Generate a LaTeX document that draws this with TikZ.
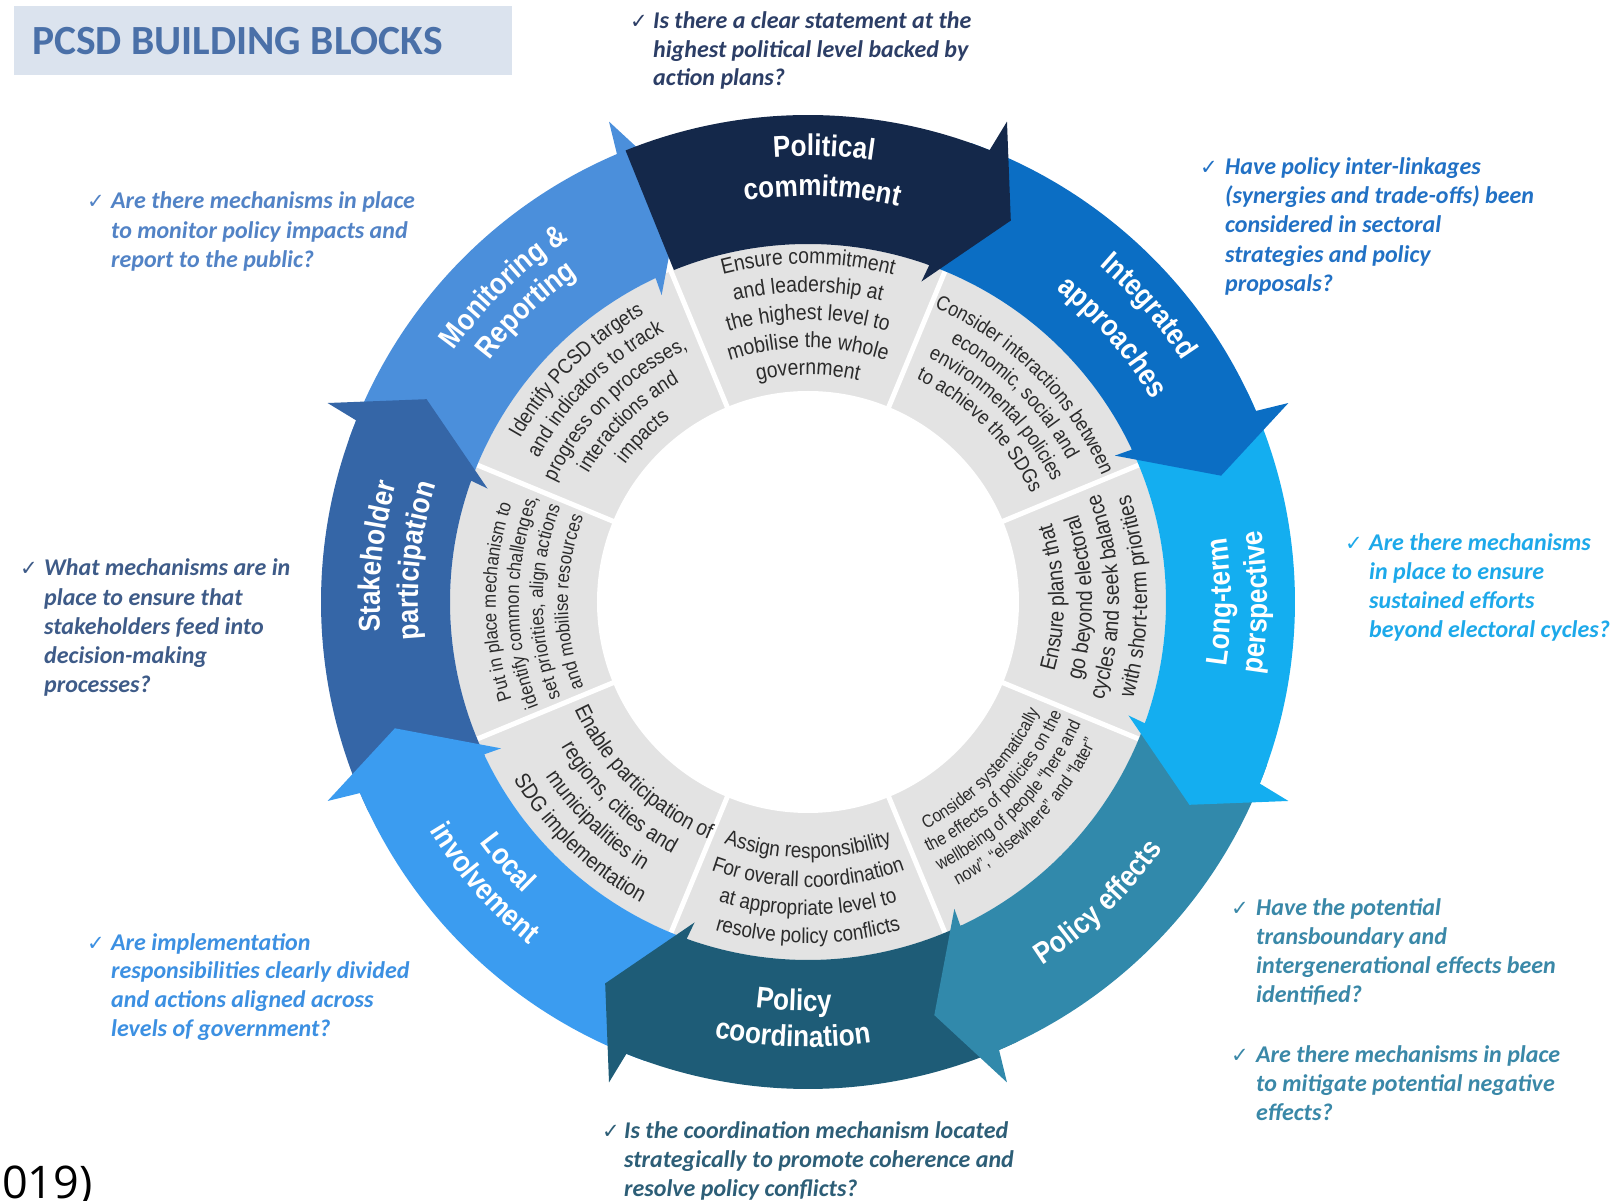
\documentclass[tikz,border=0pt]{standalone}
\usepackage{fontspec}
\usetikzlibrary{decorations.text}
\newfontfamily\grayf[FakeStretch=0.88]{Liberation Sans}
\newfontfamily\labf[FakeStretch=0.87]{Liberation Sans}
\newfontfamily\qf{Carlito}
\newfontfamily\symf{DejaVu Sans}
\newfontfamily\numf{Open Sans}

\definecolor{cPol}{HTML}{14284A}
\definecolor{cInt}{HTML}{0B6EC4}
\definecolor{cLong}{HTML}{14AEF0}
\definecolor{cEff}{HTML}{3189AB}
\definecolor{cCoord}{HTML}{1E5C77}
\definecolor{cLocal}{HTML}{3B9CF0}
\definecolor{cStake}{HTML}{3566A7}
\definecolor{cMon}{HTML}{4B8FDB}
\definecolor{cGray}{HTML}{E3E3E3}
\definecolor{cGrayText}{HTML}{2B2B2B}
\definecolor{qPol}{HTML}{2C3E66}
\definecolor{qMon}{HTML}{5283C6}
\definecolor{qInt}{HTML}{2171C5}
\definecolor{qLong}{HTML}{1DA9EA}
\definecolor{qStake}{HTML}{3E5B88}
\definecolor{qLocal}{HTML}{3C90E2}
\definecolor{qEff}{HTML}{3A88A8}
\definecolor{qCoord}{HTML}{2D5E77}
\definecolor{cTitle}{HTML}{4A70A8}
\definecolor{cTitleBg}{HTML}{DBE3EE}

\newcommand\gf[1]{\color{cGrayText}\grayf\fontsize{#1}{#1}\selectfont}
\newcommand\lf{\color{white}\labf\bfseries\fontsize{30}{30}\selectfont}
% clockwise arc text (tops outward)
\newcommand\cwtext[4]{\path[decorate,decoration={text along path,text align=center,text={|#3|#4}}] ({#1+70}:#2) arc[start angle={#1+70},end angle={#1-70},radius=#2];}
% counter-clockwise arc text (tops inward)
\newcommand\ccwtext[4]{\path[decorate,decoration={text along path,text align=center,text={|#3|#4}}] ({#1-70}:#2) arc[start angle={#1-70},end angle={#1+70},radius=#2];}
% arrow: head angle, tail angle, colour
\newcommand\ringarrow[3]{\fill[#3] (#2:487) arc[start angle=#2,end angle={#1+0.6},radius=487] -- ({#1}:520) -- ({#1-5.5}:432) -- ({#1+3}:340) -- ({#1+2.7}:358) arc[start angle={#1+2.7},end angle=#2,radius=358] -- cycle;}

\tikzset{
  qstyle/.style={anchor=base west,inner sep=0pt,font=\qf\bfseries\itshape\fontsize{24}{29}\selectfont},
  checkstyle/.style={anchor=base west,inner sep=0pt,font=\symf\fontsize{21}{24}\selectfont}
}

\begin{document}
\begin{tikzpicture}[x=1pt,y=1pt]
\useasboundingbox (-808,-599) rectangle (809,602);
\fill[white] (-808,-599) rectangle (809,602);

% title
\fill[cTitleBg] (-794,527) rectangle (-296,596);
\node[anchor=base west,inner sep=0pt,text=cTitle,font=\qf\bfseries\fontsize{41.5}{41.5}\selectfont] (title) at (-776,547) {PCSD BUILDING BLOCKS};

% gray ring
\fill[cGray] (0,0) circle (358);
\fill[white] (0,0) circle (211);
\foreach \a in {22.5,67.5,...,337.5} \draw[white,line width=5] (\a:205) -- (\a:362);

% gray texts
\cwtext{90}{338}{\gf{22}}{Ensure commitment}
\cwtext{90}{310}{\gf{22}}{and leadership at}
\cwtext{90}{282}{\gf{22}}{the highest level to}
\cwtext{90}{254}{\gf{22}}{mobilise the whole}
\cwtext{90}{227}{\gf{22}}{government}

\cwtext{45}{320}{\gf{20.5}}{Consider interactions between}
\cwtext{45}{296}{\gf{20.5}}{economic, social and}
\cwtext{45}{272}{\gf{20.5}}{environmental policies}
\cwtext{45}{248}{\gf{20.5}}{to achieve the SDGs}

\ccwtext{1}{256}{\gf{22}}{Ensure plans that}
\ccwtext{1}{284}{\gf{22}}{go beyond electoral}
\ccwtext{1}{311}{\gf{22}}{cycles and seek balance}
\ccwtext{1}{339}{\gf{22}}{with short-term priorities}

\ccwtext{-44}{256}{\gf{18}}{Consider systematically}
\ccwtext{-44}{277.5}{\gf{18}}{the effects of policies on the}
\ccwtext{-44}{299}{\gf{18}}{wellbeing of people “here and}
\ccwtext{-44}{320.5}{\gf{18}}{now”, “elsewhere” and “later”}

\ccwtext{-90}{256}{\gf{21.5}}{Assign responsibility}
\ccwtext{-90}{285}{\gf{21.5}}{For overall coordination}
\ccwtext{-90}{313}{\gf{21.5}}{at appropriate level to}
\ccwtext{-90}{341}{\gf{21.5}}{resolve policy conflicts}

\ccwtext{226}{257}{\gf{22}}{Enable participation of}
\ccwtext{226}{286}{\gf{22}}{regions, cities and}
\ccwtext{226}{315}{\gf{22}}{municipalities in}
\ccwtext{226}{344}{\gf{22}}{SDG implementation}

\cwtext{180}{312}{\gf{19.2}}{Put in place mechanism to}
\cwtext{180}{289}{\gf{19.2}}{identify common challenges,}
\cwtext{180}{265}{\gf{19.2}}{set priorities, align actions}
\cwtext{180}{240}{\gf{19.2}}{and mobilise resources}

\cwtext{135}{331}{\gf{21}}{Identify PCSD targets}
\cwtext{135}{305.5}{\gf{21}}{and indicators to track}
\cwtext{135}{280}{\gf{21}}{progress on processes,}
\cwtext{135}{254.5}{\gf{21}}{interactions and}
\cwtext{135}{229}{\gf{21}}{impacts}

% arrows (drawn so that each head lies over the next tail)
\ringarrow{112.5}{160.5}{cMon}
\ringarrow{157.5}{205.5}{cStake}
\ringarrow{202.5}{250.5}{cLocal}
\ringarrow{247.5}{295.5}{cCoord}
\ringarrow{292.5}{340.5}{cEff}
\ringarrow{337.5}{385.5}{cLong}
\ringarrow{22.5}{70.5}{cInt}
\ringarrow{67.5}{112}{cPol}

% arrow labels
\cwtext{88}{446}{\lf}{Political}
\cwtext{88}{406}{\lf}{commitment}
\cwtext{41}{445}{\lf}{Integrated}
\cwtext{41}{399}{\lf}{approaches}
\ccwtext{0}{423}{\lf}{Long-term}
\ccwtext{0}{459}{\lf}{perspective}
\ccwtext{-46}{432}{\lf}{Policy effects}
\ccwtext{-92}{409}{\lf}{Policy}
\ccwtext{-92}{445}{\lf}{coordination}
\ccwtext{221}{407}{\lf}{Local}
\ccwtext{221}{442}{\lf}{involvement}
\cwtext{174}{428}{\lf}{Stakeholder}
\cwtext{174}{390}{\lf}{participation}
\cwtext{134}{434}{\lf}{Monitoring {\&}}
\cwtext{134}{400}{\lf}{Reporting}

% questions
\node[checkstyle,text=qPol] (c1) at (-178,573) {✓};
\node[qstyle,text=qPol] (q1a) at (-155,573) {Is there a clear statement at the};
\node[qstyle,text=qPol] (q1b) at (-155,544) {highest political level backed by};
\node[qstyle,text=qPol] (q1c) at (-155,516) {action plans?};

\node[checkstyle,text=qMon] (c2) at (-721,393) {✓};
\node[qstyle,text=qMon] (q2a) at (-697,393) {Are there mechanisms in place};
\node[qstyle,text=qMon] (q2b) at (-697,363) {to monitor policy impacts and};
\node[qstyle,text=qMon] (q2c) at (-697,334) {report to the public?};

\node[checkstyle,text=qInt] (c3) at (392,427) {✓};
\node[qstyle,text=qInt] (q3a) at (417,427) {Have policy inter-linkages};
\node[qstyle,text=qInt] (q3b) at (417,398) {(synergies and trade-offs) been};
\node[qstyle,text=qInt] (q3c) at (417,369) {considered in sectoral};
\node[qstyle,text=qInt] (q3d) at (417,339) {strategies and policy};
\node[qstyle,text=qInt] (q3e) at (417,310) {proposals?};

\node[checkstyle,text=qLong] (c4) at (537,51) {✓};
\node[qstyle,text=qLong] (q4a) at (561,51) {Are there mechanisms};
\node[qstyle,text=qLong] (q4b) at (561,22) {in place to ensure};
\node[qstyle,text=qLong] (q4c) at (561,-7) {sustained efforts};
\node[qstyle,text=qLong] (q4d) at (561,-36) {beyond electoral cycles?};

\node[checkstyle,text=qStake] (c5) at (-788,26) {✓};
\node[qstyle,text=qStake] (q5a) at (-764,26) {What mechanisms are in};
\node[qstyle,text=qStake] (q5b) at (-764,-4) {place to ensure that};
\node[qstyle,text=qStake] (q5c) at (-764,-33) {stakeholders feed into};
\node[qstyle,text=qStake] (q5d) at (-764,-62) {decision-making};
\node[qstyle,text=qStake] (q5e) at (-764,-91) {processes?};

\node[checkstyle,text=qLocal] (c6) at (-721,-348) {✓};
\node[qstyle,text=qLocal] (q6a) at (-697,-348) {Are implementation};
\node[qstyle,text=qLocal] (q6b) at (-697,-376) {responsibilities clearly divided};
\node[qstyle,text=qLocal] (q6c) at (-697,-405) {and actions aligned across};
\node[qstyle,text=qLocal] (q6d) at (-697,-434) {levels of government?};

\node[checkstyle,text=qEff] (c7) at (423,-313) {✓};
\node[qstyle,text=qEff] (q7a) at (448,-313) {Have the potential};
\node[qstyle,text=qEff] (q7b) at (448,-342) {transboundary and};
\node[qstyle,text=qEff] (q7c) at (448,-371) {intergenerational effects been};
\node[qstyle,text=qEff] (q7d) at (448,-400) {identified?};
\node[checkstyle,text=qEff] (c8) at (423,-460) {✓};
\node[qstyle,text=qEff] (q8a) at (448,-460) {Are there mechanisms in place};
\node[qstyle,text=qEff] (q8b) at (448,-489) {to mitigate potential negative};
\node[qstyle,text=qEff] (q8c) at (448,-518) {effects?};

\node[checkstyle,text=qCoord] (c9) at (-206,-536) {✓};
\node[qstyle,text=qCoord] (q9a) at (-184,-536) {Is the coordination mechanism located};
\node[qstyle,text=qCoord] (q9b) at (-184,-565) {strategically to promote coherence and};
\node[qstyle,text=qCoord] (q9c) at (-184,-594) {resolve policy conflicts?};

% cut-off source year
\node[anchor=base west,inner sep=0pt,font=\numf\fontsize{45}{45}\selectfont,text=black] (yr) at (-806,-596) {019)};
\end{tikzpicture}
\end{document}
